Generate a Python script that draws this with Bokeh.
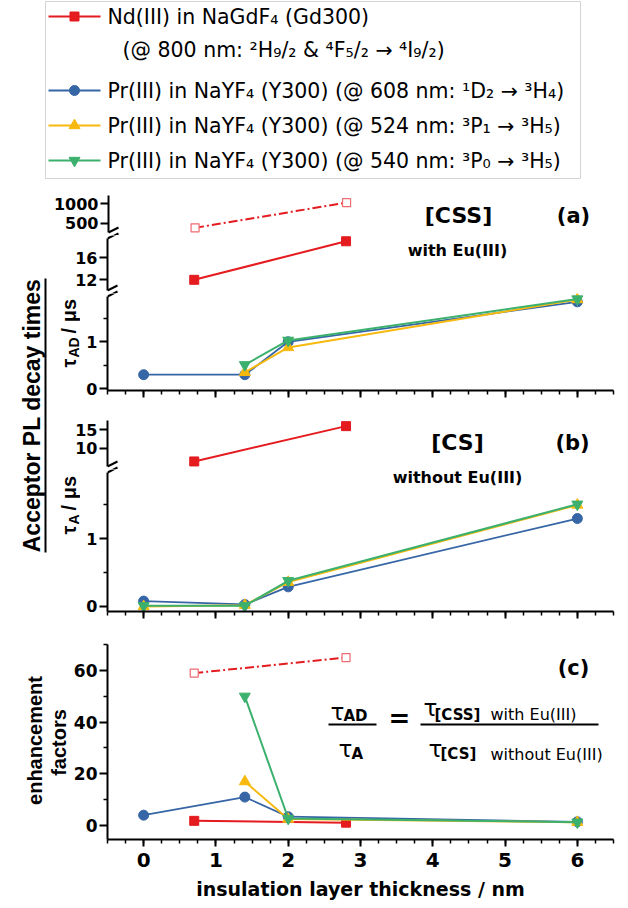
import math
from bokeh.plotting import figure
from bokeh.models import Range1d, Label, FixedTicker, SingleIntervalTicker, PolyAnnotation
from bokeh.layouts import column, row
from bokeh.embed import file_html
from bokeh.resources import INLINE

# ---------------- data ----------------
x_nd = [0.7, 2.8]                 # Nd(III) samples: insulation layer thickness / nm
x_pr4 = [0.0, 1.4, 2.0, 6.0]      # Pr(III) samples (608 nm) / (b) all Pr
x_pr3 = [1.4, 2.0, 6.0]           # Pr(III) 524 / 540 nm in (a) and (c)

# (a) tau_AD / us   [CSS] with Eu(III)
a_nd = [12.0, 19.0]
a_nd_open = [380.0, 1030.0]
a_pr608 = [0.30, 0.30, 1.00, 1.85]
a_pr524 = [0.35, 0.88, 1.90]
a_pr540 = [0.51, 1.03, 1.91]

# (b) tau_A / us   [CS] without Eu(III)
b_nd = [6.4, 16.0]
b_pr608 = [0.08, 0.03, 0.29, 1.30]
b_pr524 = [0.00, 0.02, 0.36, 1.50]
b_pr540 = [0.01, 0.01, 0.38, 1.51]

# (c) enhancement factors
c_nd = [1.8, 1.1]
c_nd_open = [59.0, 65.0]
c_pr608 = [4.0, 11.0, 3.4, 1.42]
c_pr524 = [17.0, 2.5, 1.27]
c_pr540 = [50.0, 2.7, 1.27]

a_top_ticks = [500, 1000]
a_mid_ticks = [12, 16]
a_bot_ticks = [0, 1]
a_bot_minor = [0.5, 1.5]
b_top_ticks = [10, 15]
b_bot_ticks = [0, 1]
b_bot_minor = [0.5, 1.5]
c_ticks = [0, 20, 40, 60]
c_minor = [10, 30, 50, 70]

legend_labels = [
    "Nd(III) in NaGdF₄ (Gd300)",
    "(@ 800 nm: ²H₉/₂ & ⁴F₅/₂ → ⁴I₉/₂)",
    "Pr(III) in NaYF₄ (Y300) (@ 608 nm: ¹D₂ → ³H₄)",
    "Pr(III) in NaYF₄ (Y300) (@ 524 nm: ³P₁ → ³H₅)",
    "Pr(III) in NaYF₄ (Y300) (@ 540 nm: ³P₀ → ³H₅)",
]
x_title = "insulation layer thickness / nm"

# ---------------- styles ----------------
RED = "#E41B1F"
RED_OPEN = "#EE6B70"
BLUE = "#3666A6"
YELLOW = "#F7B90D"
GREEN = "#3CB06D"
FONT = "DejaVu Sans"
RFONT = "Liberation Sans"
FL = 107          # page x of the frames' left edge
STRIP_W = 50
YL_W = 30


def clean(p):
    p.outline_line_color = None
    p.grid.visible = False
    p.background_fill_color = "white"
    p.border_fill_color = "white"
    return p


def blank_fig(width, height, x0, x1, y_bottom, y_top):
    """Figure without axes whose data space is page pixels (y downward)."""
    p = figure(width=width, height=height, x_range=Range1d(x0, x1), y_range=Range1d(y_bottom, y_top),
               output_backend="svg", toolbar_location=None, x_axis_location=None, y_axis_location=None,
               min_border=0, frame_align=False)
    return clean(p)


def seg_fig(width, height, y_lo, y_hi, left, top=0, bottom=0, xaxis=False):
    p = figure(width=width, height=height, x_range=Range1d(-0.5, 6.5), y_range=Range1d(y_lo, y_hi),
               output_backend="svg", toolbar_location=None,
               x_axis_location="below" if xaxis else None, y_axis_location="left",
               min_border=0, min_border_top=top, min_border_bottom=bottom,
               min_border_left=left, min_border_right=15, frame_align=False)
    return clean(p)


def style_y(p, ticks, minor, size, bounds=None):
    ax = p.yaxis[0]
    ax.ticker = FixedTicker(ticks=ticks, minor_ticks=minor)
    ax.axis_line_width = 2
    ax.major_tick_line_width = 2
    ax.minor_tick_line_width = 1.5
    ax.major_tick_out = 8
    ax.major_tick_in = 0
    ax.minor_tick_out = 4
    ax.minor_tick_in = 0
    ax.major_label_text_font = FONT
    ax.major_label_text_font_style = "bold"
    ax.major_label_text_font_size = f"{size}px"
    ax.major_label_text_color = "black"
    ax.major_label_standoff = 2
    if bounds is not None:
        ax.bounds = bounds


def style_x(p, labels=True):
    ax = p.xaxis[0]
    ax.ticker = SingleIntervalTicker(interval=1, num_minor_ticks=4)
    ax.axis_line_width = 2
    ax.major_tick_line_width = 2
    ax.minor_tick_line_width = 1.5
    ax.major_tick_out = 7
    ax.major_tick_in = 0
    ax.minor_tick_out = 4
    ax.minor_tick_in = 0
    ax.major_label_text_font = FONT
    ax.major_label_text_font_style = "bold"
    if labels:
        ax.major_label_text_color = "black"
        ax.major_label_text_font_size = "20px"
        ax.major_label_standoff = 6
    else:
        ax.major_label_text_color = None
        ax.major_label_text_font_size = "1px"
        ax.major_label_standoff = 0


def val(lo, hi, ft, fb, py):
    """data value of page row py in a segment whose frame spans page rows ft..fb"""
    return lo + (fb - py) / (fb - ft) * (hi - lo)


def put(p, fb, px, py, text, size, bold=False, font=FONT, align="center", baseline="middle", angle=0.0):
    """Label inside a panel frame, placed by page position; fb = page y of that frame's bottom."""
    p.add_layout(Label(x=px - FL, y=fb - py, x_units="screen", y_units="screen", text=text,
                       text_font=font, text_font_size=f"{size}px",
                       text_font_style="bold" if bold else "normal",
                       text_align=align, text_baseline=baseline, angle=angle, text_color="black"))


def stroke(p, xs, ys):
    p.add_layout(PolyAnnotation(xs=xs, ys=ys, xs_units="screen", ys_units="screen",
                                fill_color=None, fill_alpha=0.0,
                                line_color="black", line_alpha=1.0, line_width=2))


def add_break(p, fb, yc):
    """Right-hand parts of the two axis-break slashes around page row yc."""
    for yy in (yc - 3, yc + 3):
        stroke(p, [0, 10], [fb - yy, fb - (yy - 5)])


def plot_nd(p, y, hollow=False):
    if hollow:
        p.line(x_nd, y, line_color=RED, line_width=2, line_dash="9 3 2 3")
        p.scatter(x_nd, y, marker="square", size=8, fill_color="white", line_color=RED_OPEN, line_width=1.2)
    else:
        p.line(x_nd, y, line_color=RED, line_width=2)
        p.scatter(x_nd, y, marker="square", size=9, fill_color=RED, line_color=RED)


def plot_pr(p, x, y, color, marker, size, lw=2):
    p.line(x, y, line_color=color, line_width=lw)
    p.scatter(x, y, marker=marker, size=size, fill_color=color, line_color=color)


LSB = {'τ': 0.50, 'A': 0.722, 'D': 0.722, ' ': 0.278, '/': 0.278, 'μ': 0.611, 's': 0.556}


def tw(text, size):
    return sum(LSB.get(ch, 0.6) for ch in text) * size


def tau_ylabel(p, px_base, py_center, sub):
    """rotated 'tau_sub / us' label in a blank (page-pixel) figure"""
    parts = [("τ", 20, 0, 0), (sub, 14, 5, 4), (" / μs", 20, 0, 0)]
    total = sum(tw(t, s) + gap for t, s, _, gap in parts)
    y = py_center + total / 2
    for t, s, dx, gap in parts:
        p.add_layout(Label(x=px_base + dx, y=y, text=t, angle=math.pi / 2, text_font=RFONT,
                           text_font_style="bold", text_font_size=f"{s}px", text_align="left",
                           text_baseline="alphabetic", text_color="black"))
        y -= tw(t, s) + gap


# ---------------- legend ----------------
leg = blank_fig(628, 185, 0, 628, 185, 0)
leg.quad(left=[45], right=[580], top=[1], bottom=[178], fill_color=None, line_color="#d4d4d4", line_width=1)
rows_y = [16, 49, 90, 125, 160]
samples = [(RED, "square", 9, 0), (BLUE, "circle", 10, 2), (YELLOW, "triangle", 11, 3),
           (GREEN, "inverted_triangle", 11, 4)]
for color, marker, size, idx in samples:
    yy = rows_y[idx]
    leg.line([48, 100], [yy, yy], line_color=color, line_width=2)
    leg.scatter([74], [yy], marker=marker, size=size, fill_color=color, line_color=color)
for i, lab in enumerate(legend_labels):
    leg.add_layout(Label(x=122 if i == 1 else 107, y=rows_y[i], text=lab, text_font=FONT,
                         text_font_size="20.5px", text_baseline="middle", text_align="left",
                         text_color="black"))

# ---------------- left strip ----------------
strip = blank_fig(STRIP_W, 445, 0, STRIP_W, 630, 185)
strip.add_layout(Label(x=31, y=415, text="Acceptor PL decay times", angle=math.pi / 2,
                       text_font=RFONT, text_font_style="bold", text_font_size="23px",
                       text_align="center", text_baseline="middle", text_color="black"))
strip.line([45, 45], [278, 552], line_color="black", line_width=2)

# ---------------- panel (a) ----------------
AT = (183.0, 1214.0, 195, 235)      # range lo, hi, frame top, frame bottom (page rows)
AM = (9.51, 20.05, 235, 293)
AB = (-0.036, 2.028, 293, 390)

a_top = seg_fig(628 - STRIP_W, 50, AT[0], AT[1], left=FL - STRIP_W, top=10)
style_y(a_top, a_top_ticks, [], 16, bounds=(val(*AT, 232), AT[1]))
plot_nd(a_top, a_nd_open, hollow=True)
put(a_top, AT[3], 457, 215, "[CSS]", 22, bold=True)
put(a_top, AT[3], 572, 215, "(a)", 21, bold=True)
add_break(a_top, AT[3], 235)

a_mid = seg_fig(628 - STRIP_W, 58, AM[0], AM[1], left=FL - STRIP_W)
style_y(a_mid, a_mid_ticks, [], 16, bounds=(val(*AM, 290), val(*AM, 238)))
plot_nd(a_mid, a_nd)
put(a_mid, AM[3], 457, 250, "with Eu(III)", 16, bold=True)
add_break(a_mid, AM[3], 235)
add_break(a_mid, AM[3], 293)

yl_a = blank_fig(YL_W, 117, STRIP_W, STRIP_W + YL_W, 410, 293)
tau_ylabel(yl_a, 68, 330, "AD")
a_bot = seg_fig(628 - STRIP_W - YL_W, 117, AB[0], AB[1], left=FL - STRIP_W - YL_W, bottom=20, xaxis=True)
style_y(a_bot, a_bot_ticks, a_bot_minor, 16, bounds=(AB[0], val(*AB, 296)))
style_x(a_bot, labels=False)
plot_pr(a_bot, x_pr4, a_pr608, BLUE, "circle", 10, lw=1.8)
plot_pr(a_bot, x_pr3, a_pr524, YELLOW, "triangle", 11)
plot_pr(a_bot, x_pr3, a_pr540, GREEN, "inverted_triangle", 11)
add_break(a_bot, AB[3], 293)

# ---------------- panel (b) ----------------
BT = (4.21, 17.53, 420, 469)
BB = (-0.074, 2.024, 469, 611)

b_top = seg_fig(628 - STRIP_W, 59, BT[0], BT[1], left=FL - STRIP_W, top=10)
style_y(b_top, b_top_ticks, [], 16, bounds=(val(*BT, 466), BT[1]))
plot_nd(b_top, b_nd)
put(b_top, BT[3], 457, 442, "[CS]", 22, bold=True)
put(b_top, BT[3], 572, 442, "(b)", 21, bold=True)
add_break(b_top, BT[3], 469)

yl_b = blank_fig(YL_W, 161, STRIP_W, STRIP_W + YL_W, 630, 469)
tau_ylabel(yl_b, 68, 502, "A")
b_bot = seg_fig(628 - STRIP_W - YL_W, 161, BB[0], BB[1], left=FL - STRIP_W - YL_W, bottom=19, xaxis=True)
style_y(b_bot, b_bot_ticks, b_bot_minor, 16, bounds=(BB[0], val(*BB, 472)))
style_x(b_bot, labels=False)
plot_pr(b_bot, x_pr4, b_pr608, BLUE, "circle", 10, lw=1.8)
plot_pr(b_bot, x_pr4, b_pr524, YELLOW, "triangle", 11)
plot_pr(b_bot, x_pr4, b_pr540, GREEN, "inverted_triangle", 11)
put(b_bot, BB[3], 457, 477, "without Eu(III)", 16, bold=True)
add_break(b_bot, BB[3], 469)

# ---------------- panel (c) ----------------
YLC_W = 70
yl_c = blank_fig(YLC_W, 278, 0, YLC_W, 908, 630)
yl_c.add_layout(Label(x=34, y=740, text="enhancement", angle=math.pi / 2, text_font=RFONT,
                      text_font_style="bold", text_font_size="20px", text_align="center",
                      text_baseline="middle", text_color="black"))
yl_c.add_layout(Label(x=58, y=742, text="factors", angle=math.pi / 2, text_font=RFONT,
                      text_font_style="bold", text_font_size="20px", text_align="center",
                      text_baseline="middle", text_color="black"))

c = seg_fig(628 - YLC_W, 278, -5.42, 70.06, left=FL - YLC_W, top=14, bottom=69, xaxis=True)
style_y(c, c_ticks, c_minor, 17)
style_x(c, labels=True)
c.xaxis[0].axis_label = x_title
c.xaxis[0].axis_label_text_font = FONT
c.xaxis[0].axis_label_text_font_style = "bold"
c.xaxis[0].axis_label_text_font_size = "19px"
c.xaxis[0].axis_label_text_color = "black"
c.xaxis[0].axis_label_standoff = 8
plot_nd(c, c_nd_open, hollow=True)
plot_nd(c, c_nd)
plot_pr(c, x_pr4, c_pr608, BLUE, "circle", 10, lw=1.8)
plot_pr(c, x_pr3, c_pr524, YELLOW, "triangle", 11)
plot_pr(c, x_pr3, c_pr540, GREEN, "inverted_triangle", 11)
CFB = 839
put(c, CFB, 573, 667, "(c)", 21, bold=True)
# formula  tau_AD / tau_A = tau_[CSS] with Eu(III) / tau_[CS] without Eu(III)
put(c, CFB, 330, 711, "τ", 23, align="left", baseline="alphabetic")
put(c, CFB, 343, 715.5, "AD", 15, bold=True, align="left", baseline="alphabetic")
put(c, CFB, 338, 748, "τ", 23, align="left", baseline="alphabetic")
put(c, CFB, 351, 753, "A", 15, bold=True, align="left", baseline="alphabetic")
put(c, CFB, 399, 717.5, "=", 26, bold=True)
put(c, CFB, 423, 707, "τ", 23, align="left", baseline="alphabetic")
put(c, CFB, 434, 714, "[CSS]", 15, bold=True, align="left", baseline="alphabetic")
put(c, CFB, 490, 713.5, "with Eu(III)", 16, align="left", baseline="alphabetic")
put(c, CFB, 428, 748, "τ", 23, align="left", baseline="alphabetic")
put(c, CFB, 440, 753.5, "[CS]", 15, bold=True, align="left", baseline="alphabetic")
put(c, CFB, 490, 753.5, "without Eu(III)", 16, align="left", baseline="alphabetic")
for x0, x1 in ((328, 376), (420, 598)):
    stroke(c, [x0 - FL, x1 - FL], [CFB - 724, CFB - 724])

panels = column(a_top, a_mid, row(yl_a, a_bot), b_top, row(yl_b, b_bot))
page = column(leg, row(strip, panels), row(yl_c, c))
open("out.html", "w").write(file_html(page, INLINE))
